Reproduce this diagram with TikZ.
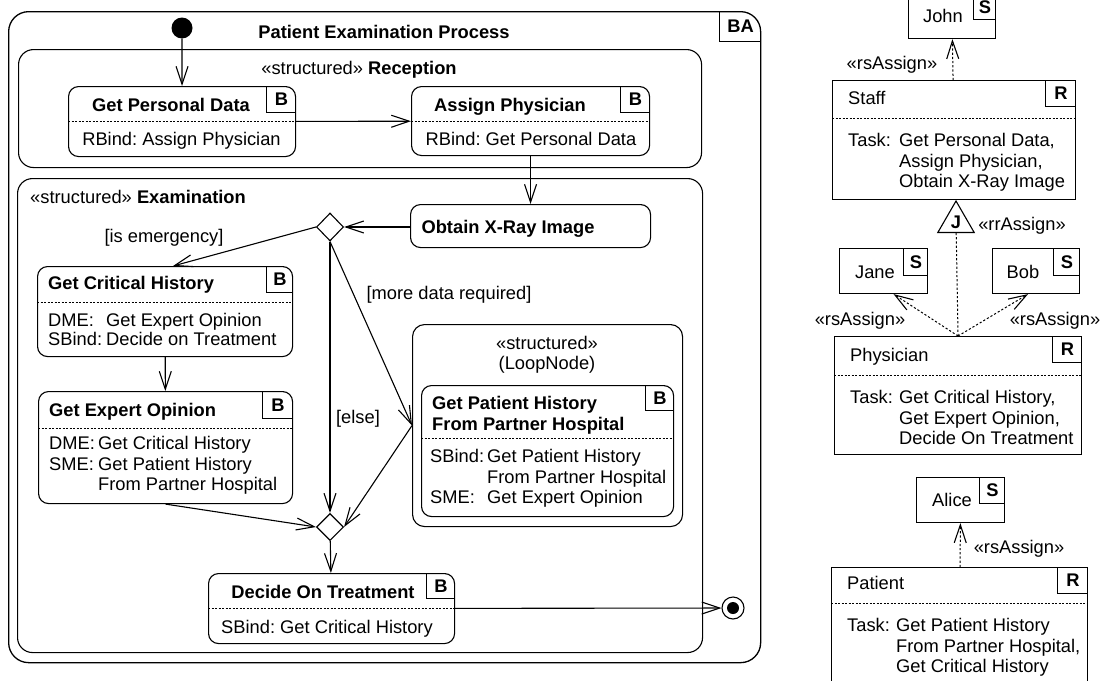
\documentclass[tikz,border=0pt]{standalone}
\usepackage{fontspec}
\setmainfont{Liberation Sans}
\usetikzlibrary{arrows.meta,shapes.geometric}
\newcommand{\fs}{\fontsize{18.3}{20.5}\selectfont\frenchspacing}
\newcommand{\lb}[2]{\makebox[#1pt][l]{#2}}
\tikzset{
 lw/.style={line width=1.1pt},
 act/.style={draw, lw, rounded corners=10pt, inner sep=0pt, anchor=north west},
 rbox/.style={draw, lw, inner sep=0pt, anchor=north west},
 region/.style={draw, lw, rounded corners=15pt, inner sep=0pt, anchor=north west},
 sepline/.style={line width=0.8pt, dash pattern=on 2pt off 1.5pt},
 tagline/.style={lw},
 tagtxt/.style={font=\fs\bfseries, anchor=north east, inner sep=0pt},
 txt/.style={font=\fs, inner sep=0pt},
 btxt/.style={font=\fs\bfseries, inner sep=0pt},
 flow/.style={lw, -{Straight Barb[length=18pt,width=12pt]}},
 dep/.style={line width=1pt, dash pattern=on 2.2pt off 2pt, -{Straight Barb[length=18pt,width=12pt,line width=1.1pt]}},
 depline/.style={line width=1pt, dash pattern=on 2.2pt off 2pt},
}
\newcommand{\tagat}[5]{%
 \node[tagtxt, minimum width=#3pt, minimum height=#4pt] (#1) at (#2.north east) {#5};
 \draw[tagline] (#1.north west) -- (#1.south west) -- (#1.south east);}
\begin{document}
\begin{tikzpicture}[x=1pt,y=-1pt]
\useasboundingbox (0,0) rectangle (1102,680);
\clip (0,0) rectangle (1102,680);

% ---------- outer activity ----------
\node[region, line width=1.3pt, rounded corners=20pt, minimum width=752, minimum height=651] (ba) at (8,11) {};
\tagat{baT}{ba}{41}{30}{BA}
\node[btxt, anchor=base] (title) at (384,38.5) {Patient Examination Process};
\node[circle, fill=black, minimum size=21, inner sep=0pt] (init) at (182,28) {};

% ---------- reception ----------
\node[region, minimum width=683, minimum height=118] (rec) at (18,49) {};
\node[txt, anchor=base] (recL) at (359,74.5) {«structured» \textbf{Reception}};

\node[act, minimum width=227, minimum height=70] (gpd) at (68,86) {};
\tagat{gpdT}{gpd}{29}{26}{B}
\draw[sepline] (68,121) -- (295,121);
\node[btxt, anchor=base] (gpdN) at (171,111.5) {Get Personal Data};
\node[txt, anchor=base] (gpdB) at (181.5,145.5) {RBind: Assign Physician};

\node[act, minimum width=238, minimum height=69] (ap) at (411,86) {};
\tagat{apT}{ap}{29}{26}{B}
\draw[sepline] (411,121) -- (649,121);
\node[btxt, anchor=base] (apN) at (510,111.5) {Assign Physician};
\node[txt, anchor=base] (apB) at (531,145.5) {RBind: Get Personal Data};

% ---------- examination ----------
\node[region, minimum width=685, minimum height=474] (exam) at (17,178) {};
\node[txt, anchor=base west] (examL) at (30,203.8) {«structured» \textbf{Examination}};

\node[act, minimum width=240, minimum height=43] (oxr) at (410,204) {};
\node[btxt, anchor=base] (oxrN) at (508,233.5) {Obtain X-Ray Image};

\node[diamond, draw, lw, minimum width=27, minimum height=28, inner sep=0pt] (d1) at (330,227) {};
\node[txt, anchor=base] (l1) at (164,242.5) {[is emergency]};
\node[txt, anchor=base] (l2) at (449,299.5) {[more data required]};
\node[txt, anchor=base] (l3) at (358,423.5) {[else]};

\node[act, minimum width=255, minimum height=90] (gch) at (37,266) {};
\tagat{gchT}{gch}{26}{26}{B}
\draw[sepline] (37,302) -- (292,302);
\node[btxt, anchor=base west] (gchN) at (48,289.5) {Get Critical History};
\node[txt, anchor=base west] (gchB) at (48,326.5) {\begin{tabular}[t]{@{}l@{}}\lb{58}{DME:}Get Expert Opinion\\[-1.5pt]\lb{58}{SBind:}Decide on Treatment\end{tabular}};

\node[act, minimum width=254, minimum height=112] (geo) at (38,391) {};
\tagat{geoT}{geo}{30}{27}{B}
\draw[sepline] (38,428) -- (292,428);
\node[btxt, anchor=base west] (geoN) at (49,416.5) {Get Expert Opinion};
\node[txt, anchor=base west] (geoB) at (49,449.5) {\begin{tabular}[t]{@{}l@{}}\lb{49}{DME:}Get Critical History\\\lb{49}{SME:}Get Patient History\\\lb{49}{}From Partner Hospital\end{tabular}};

\node[diamond, draw, lw, minimum width=27, minimum height=27, inner sep=0pt] (d2) at (330,527) {};

\node[act, minimum width=246, minimum height=70] (dot) at (208,573) {};
\tagat{dotT}{dot}{28}{25}{B}
\draw[sepline] (208,608) -- (454,608);
\node[btxt, anchor=base] (dotN) at (323,598.5) {Decide On Treatment};
\node[txt, anchor=base] (dotB) at (327,633.5) {SBind: Get Critical History};

\node[circle, draw, lw, minimum size=22, inner sep=0pt] (fin) at (733,608) {};
\node[circle, fill=black, minimum size=12, inner sep=0pt] (finC) at (733,608) {};

% ---------- loop node ----------
\node[region, rounded corners=12pt, minimum width=270, minimum height=202] (loop) at (412,324) {};
\node[txt, anchor=base] (loopL1) at (547,349.5) {«structured»};
\node[txt, anchor=base] (loopL2) at (547,369.5) {(LoopNode)};
\node[act, minimum width=252, minimum height=131] (gph) at (421,385) {};
\tagat{gphT}{gph}{28}{25}{B}
\draw[sepline] (421,438) -- (673,438);
\node[btxt, anchor=base west] (gphN) at (432,409.5) {\begin{tabular}[t]{@{}l@{}}Get Patient History\\From Partner Hospital\end{tabular}};
\node[txt, anchor=base west] (gphB) at (430,462.5) {\begin{tabular}[t]{@{}l@{}}\lb{57}{SBind:}Get Patient History\\\lb{57}{}From Partner Hospital\\\lb{57}{SME:}Get Expert Opinion\end{tabular}};

% ---------- control flows ----------
\draw[flow] (init) -- (gpd);
\draw[flow] (gpd) -- (ap);
\draw[flow] (ap) -- (oxr);
\draw[flow] (oxr.west |- d1) -- (d1);
\draw[flow] (d1.west) -- ([xshift=8pt]gch.north);
\draw[flow] (gch) -- (geo);
\draw[flow] (d1.south) -- (d2.north);
\draw[flow] (d1.south) -- (loop.west);
\draw[flow] (loop.west) -- (d2.east);
\draw[flow] (geo.south) -- (d2.west);
\draw[flow] (d2) -- (dot);
\draw[flow] (dot) -- (fin);

% ---------- right column ----------
\node[rbox, minimum width=87, minimum height=42] (john) at (908,-4) {};
\tagat{johnT}{john}{22}{23}{S}
\node[txt, anchor=base] (johnN) at (943,22.5) {John};

\node[rbox, minimum width=243, minimum height=119] (staff) at (832,80) {};
\tagat{staffT}{staff}{30}{26}{R}
\draw[sepline] (832,118) -- (1075,118);
\node[txt, anchor=base west] (staffN) at (848,104.5) {Staff};
\node[txt, anchor=base west] (staffB) at (848,146.5) {\begin{tabular}[t]{@{}l@{}}\lb{51}{Task:}Get Personal Data,\\\lb{51}{}Assign Physician,\\\lb{51}{}Obtain X-Ray Image\end{tabular}};
\node[txt, anchor=base] (rs1) at (892,69.5) {«rsAssign»};

\node[draw, lw, regular polygon, regular polygon sides=3, minimum size=42pt, inner sep=0pt, font=\fs\bfseries] (jt) at (956,222) {J};
\node[txt, anchor=base] (rr) at (1022,230.5) {«rrAssign»};

\node[rbox, minimum width=88, minimum height=45] (jane) at (839,248) {};
\tagat{janeT}{jane}{24}{27}{S}
\node[txt, anchor=base] (janeN) at (875,278.5) {Jane};

\node[rbox, minimum width=87, minimum height=45] (bob) at (992,248) {};
\tagat{bobT}{bob}{26}{27}{S}
\node[txt, anchor=base] (bobN) at (1023,278.5) {Bob};

\node[txt, anchor=base] (rs2) at (860,325.5) {«rsAssign»};
\node[txt, anchor=base] (rs3) at (1055,325.5) {«rsAssign»};

\node[rbox, minimum width=247, minimum height=118] (phys) at (834,336) {};
\tagat{physT}{phys}{29}{26}{R}
\draw[sepline] (834,375) -- (1081,375);
\node[txt, anchor=base west] (physN) at (850,361.5) {Physician};
\node[txt, anchor=base west] (physB) at (850,403.5) {\begin{tabular}[t]{@{}l@{}}\lb{49}{Task:}Get Critical History,\\\lb{49}{}Get Expert Opinion,\\\lb{49}{}Decide On Treatment\end{tabular}};

\node[rbox, minimum width=88, minimum height=45] (alice) at (916,477) {};
\tagat{aliceT}{alice}{25}{26}{S}
\node[txt, anchor=base] (aliceN) at (952,506.5) {Alice};
\node[txt, anchor=base] (rs4) at (1019,553.5) {«rsAssign»};

\node[rbox, minimum width=256, minimum height=133] (patient) at (831,567) {};
\tagat{patientT}{patient}{30}{26}{R}
\draw[sepline] (831,603) -- (1087,603);
\node[txt, anchor=base west] (patientN) at (847,589.5) {Patient};
\node[txt, anchor=base west] (patientB) at (847,631.5) {\begin{tabular}[t]{@{}l@{}}\lb{49}{Task:}Get Patient History\\\lb{49}{}From Partner Hospital,\\\lb{49}{}Get Critical History\end{tabular}};

% ---------- assignments ----------
\draw[dep] (staff) -- (john);
\draw[depline] (phys.north) -- (jt);
\draw[dep] (phys.north) -- ([xshift=10pt]jane.south);
\draw[dep] (phys.north) -- ([xshift=-8pt]bob.south);
\draw[dep] (patient) -- (alice);
\end{tikzpicture}
\end{document}
